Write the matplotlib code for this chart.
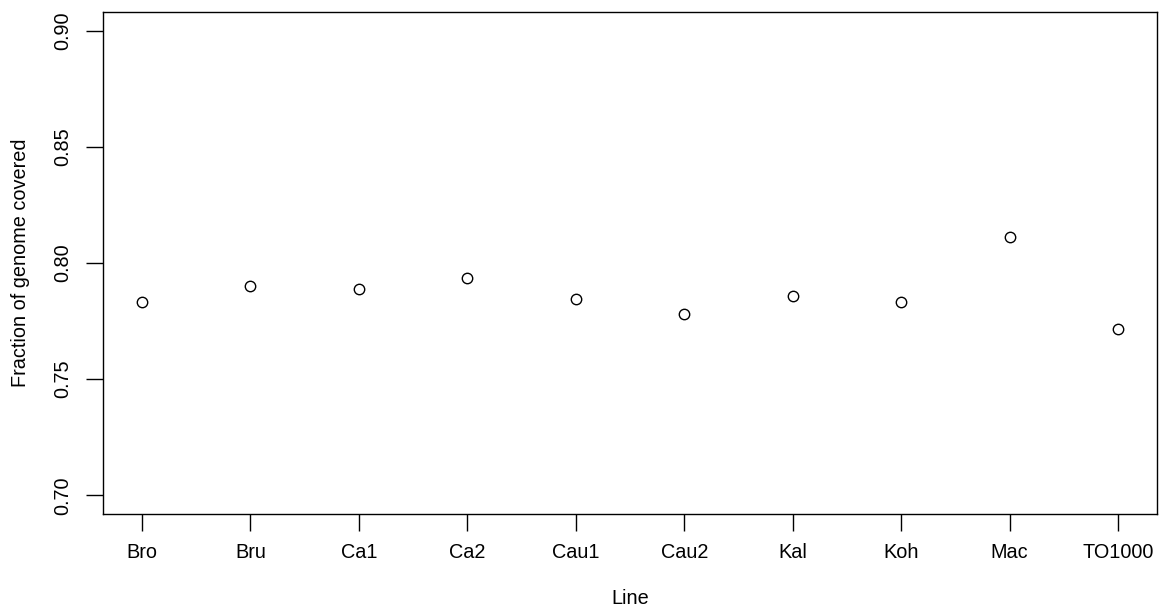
import matplotlib
matplotlib.use("Agg")
import matplotlib.pyplot as plt

# data
lines = ["Bro", "Bru", "Ca1", "Ca2", "Cau1", "Cau2", "Kal", "Koh", "Mac", "TO1000"]
coverage = [0.7834, 0.7901, 0.7887, 0.7936, 0.7845, 0.7779, 0.7858, 0.7834, 0.8113, 0.7715]
yticks = [0.70, 0.75, 0.80, 0.85, 0.90]

plt.rcParams['font.family'] = ['Liberation Sans', 'DejaVu Sans']

fig = plt.figure(figsize=(11.63, 6.10), dpi=100)
ax = fig.add_axes([103/1163, 1 - 514/610, (1157 - 103)/1163, (514 - 12)/610])

x = list(range(1, len(lines) + 1))
ax.plot(x, coverage, linestyle='none', marker='o', markersize=7.5,
        markerfacecolor='white', markeredgecolor='black', markeredgewidth=1.0)

# R-style 4% padding
ax.set_xlim(1 - 0.04 * 9, 10 + 0.04 * 9)
ax.set_ylim(0.70 - 0.04 * 0.2, 0.90 + 0.04 * 0.2)

ax.set_xticks(x)
ax.set_xticklabels(lines, fontsize=14.3)
ax.set_yticks(yticks)
ax.set_yticklabels(["%.2f" % v for v in yticks], fontsize=14.3, rotation=90, va='center')
ax.tick_params(axis='x', length=12, width=1, pad=9, color='black')
ax.tick_params(axis='y', length=12, width=1, pad=10, color='black')

for s in ax.spines.values():
    s.set_linewidth(1)

ax.set_xlabel("Line", fontsize=14.3, labelpad=19)
ax.set_ylabel("Fraction of genome covered", fontsize=14.3, labelpad=17)

fig.savefig("out.png", dpi=100)
